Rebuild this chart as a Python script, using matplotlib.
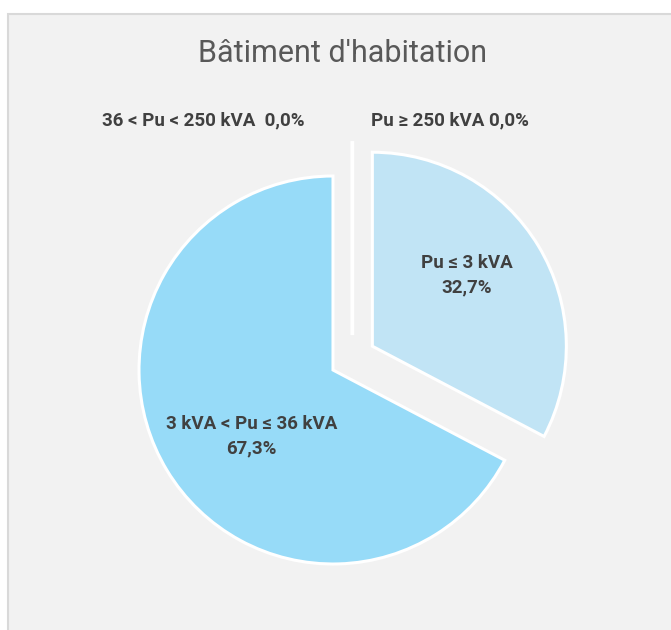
import numpy as np
import matplotlib
matplotlib.use('Agg')
import matplotlib.pyplot as plt
from matplotlib.patches import Rectangle
from matplotlib.transforms import Affine2D

# Données ======================================================================
categories = ['Pu ≤ 3 kVA', '3 kVA < Pu ≤ 36 kVA', '36 < Pu < 250 kVA', 'Pu ≥ 250 kVA']
valeurs = [32.7, 67.3, 0.0, 0.0]
couleurs = ['#c1e4f5', '#97dbf8', '#c1e4f5', '#97dbf8']
eclatement = [0.237, 0.0, 0.18, 0.18]

def fmt(v):
    return f'{v:.1f}'.replace('.', ',') + '%'

plt.rcParams['font.family'] = ['Roboto', 'DejaVu Sans']

W, H = 671, 630
fig = plt.figure(figsize=(W / 100, H / 100), dpi=100, facecolor='white')

# Cadre gris du graphique
fig.patches.append(Rectangle((8 / W, -0.01), 1.0, (H - 14) / H + 0.01,
                             transform=fig.transFigure, facecolor='#f2f2f2',
                             edgecolor='#d9d9d9', linewidth=1.5, zorder=-5))

# Axe centré sur le camembert : centre (333, 370) px, rayon 194 px
R, cx, cy, L = 194, 333, 370, 250
ax = fig.add_axes([(cx - L) / W, (H - cy - L) / H, 2 * L / W, 2 * L / H])
ax.set_facecolor('none')
ax.set_zorder(2)

wedges, _ = ax.pie(valeurs, colors=couleurs, explode=eclatement,
                   startangle=90, counterclock=False,
                   wedgeprops=dict(edgecolor='white', linewidth=2.2))
ax.set_xlim(-L / R, L / R)
ax.set_ylim(-L / R, L / R)
ax.axis('off')

# Les parts nulles apparaissent comme un trait blanc dans l'espace
for w in wedges[2:]:
    w.set_transform(Affine2D().translate(0.1, 0) + ax.transData)
    w.set_linewidth(2.5)

style = dict(fontsize=13.5, fontweight='bold', color='#404040',
             ha='center', va='center', linespacing=1.45)
ax.text(0.69, 0.49, categories[0] + '\n' + fmt(valeurs[0]), **style)
ax.text(-0.42, -0.34, categories[1] + '\n' + fmt(valeurs[1]), **style)
ax.text(-0.67, 1.284, categories[2] + '  ' + fmt(valeurs[2]), **style)
ax.text(0.603, 1.284, categories[3] + ' ' + fmt(valeurs[3]), **style)

fig.text(343 / W, 1 - 53 / H, "Bâtiment d'habitation", fontsize=22,
         color='#595959', ha='center', va='center')

fig.savefig('out.png', dpi=100, facecolor='white')
